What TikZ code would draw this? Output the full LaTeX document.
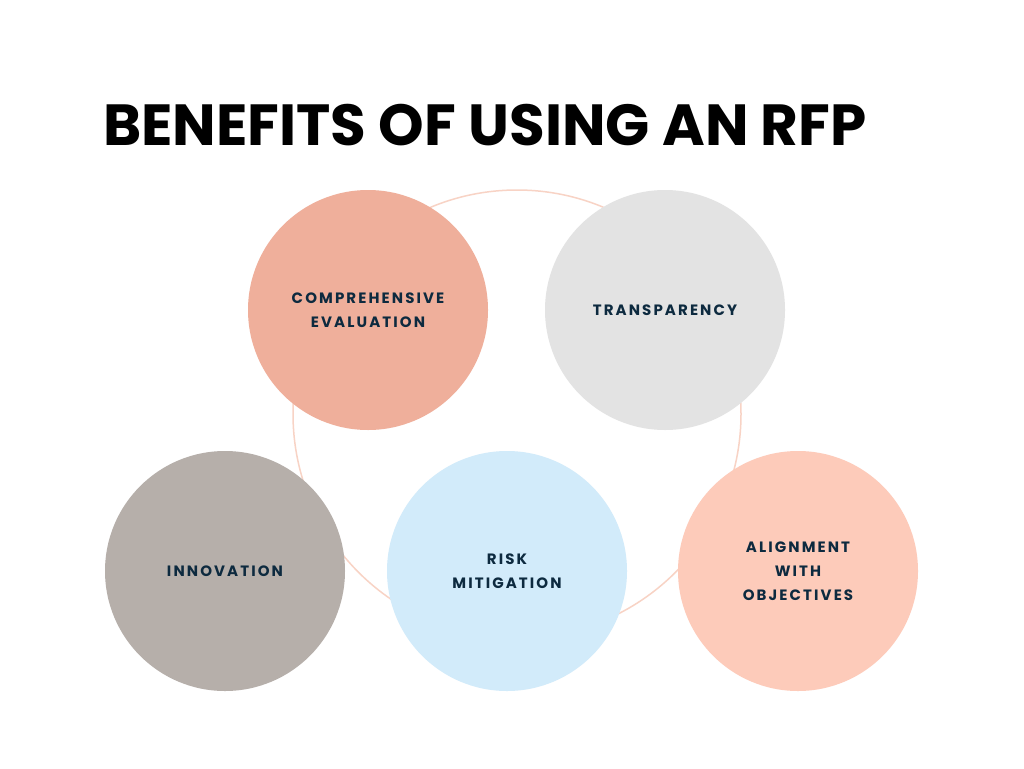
\documentclass[tikz,border=0pt]{standalone}
\usepackage{fontspec}
\setmainfont{Poppins}
\newfontfamily\lab[LetterSpace=14]{Poppins}
\definecolor{ink}{HTML}{0D2A3F}
\definecolor{cA}{HTML}{EFAF9B}
\definecolor{cB}{HTML}{E3E3E3}
\definecolor{cC}{HTML}{B6AFAA}
\definecolor{cD}{HTML}{D2EBFA}
\definecolor{cE}{HTML}{FDCBBA}
\definecolor{ring}{HTML}{F8D3C5}
\begin{document}
\begin{tikzpicture}[x=1pt,y=-1pt,
  bub/.style={circle,minimum size=240pt,inner sep=0pt,text=ink,align=center,font=\lab\bfseries\fontsize{15}{24}\selectfont}]
\useasboundingbox (0,0) rectangle (1024,768);
\fill[white] (0,0) rectangle (1024,768);
\node[anchor=base west,inner sep=0pt,font=\bfseries\fontsize{58}{60}\selectfont] (t) at (103,145) {BENEFITS OF USING AN RFP};
\draw[ring,line width=1.5pt] (517,414) circle (224);
\node[bub,fill=cA] (a) at (368,310) {COMPREHENSIVE\\EVALUATION};
\node[bub,fill=cB] (b) at (665,310) {TRANSPARENCY};
\node[bub,fill=cC] (c) at (225,571) {INNOVATION};
\node[bub,fill=cD] (d) at (507,571) {RISK\\MITIGATION};
\node[bub,fill=cE] (e) at (798,571) {ALIGNMENT\\WITH\\OBJECTIVES};
\end{tikzpicture}
\end{document}
